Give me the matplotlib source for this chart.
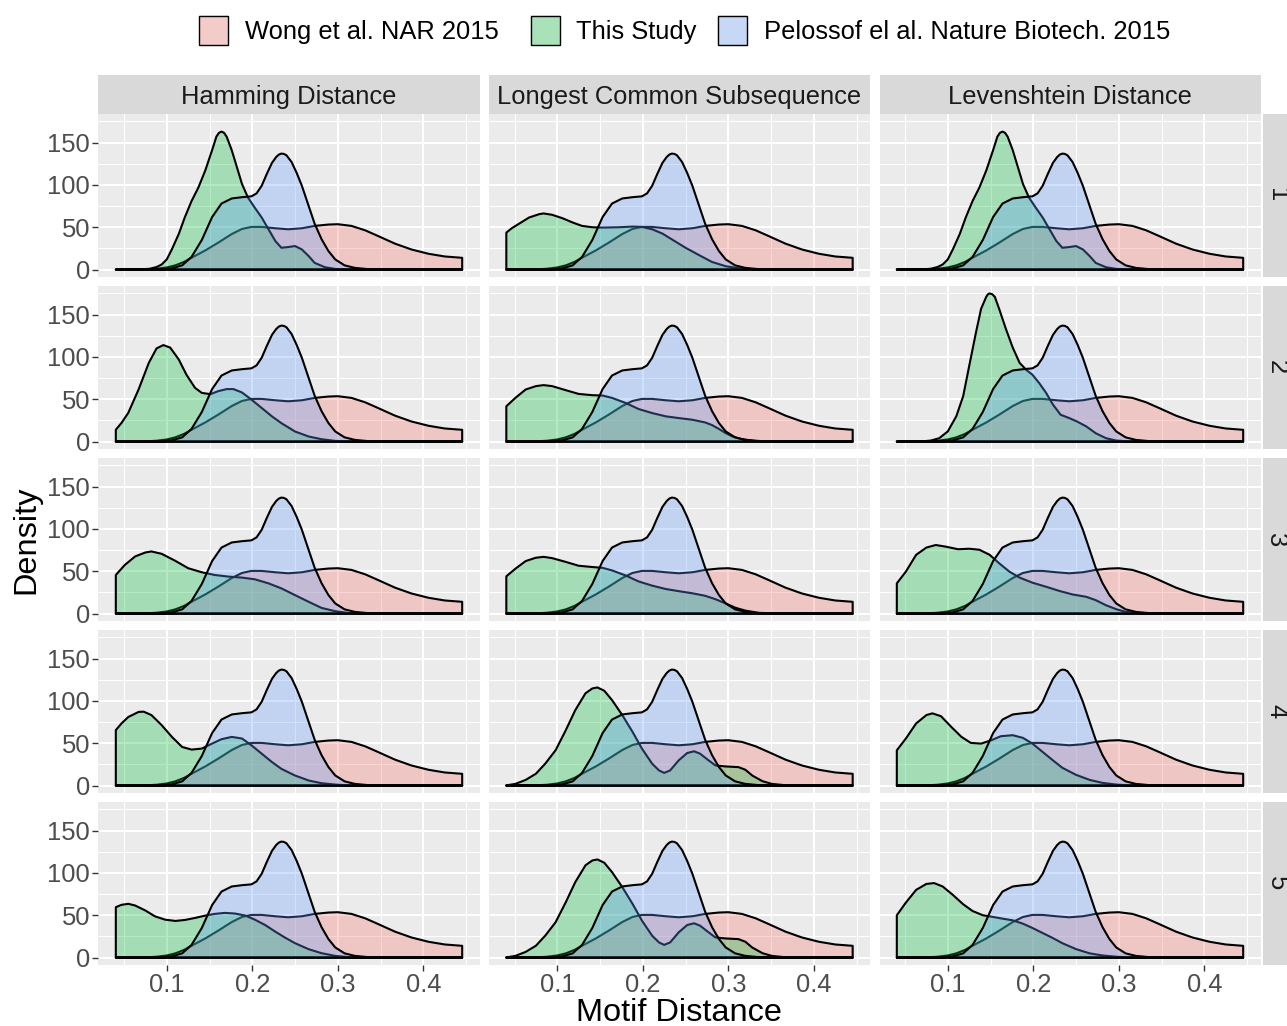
import matplotlib
matplotlib.use("Agg")
import matplotlib.pyplot as plt
from matplotlib.colors import to_rgb
from matplotlib.patches import Polygon, Rectangle

plt.rcParams['font.family'] = ['Liberation Sans', 'DejaVu Sans']

# ---------------------------------------------------------------- data
metrics = ["Hamming Distance", "Longest Common Subsequence", "Levenshtein Distance"]
row_labels = ["1", "2", "3", "4", "5"]
series_names = ["Wong et al. NAR 2015", "This Study",
                "Pelossof el al. Nature Biotech. 2015"]
x_ticks = [0.1, 0.2, 0.3, 0.4]
x_tick_labels = ["0.1", "0.2", "0.3", "0.4"]
y_ticks = [0, 50, 100, 150]
y_tick_labels = ["0", "50", "100", "150"]

# reference libraries (identical in every panel)
wong_x = [0.0404, 0.06, 0.075, 0.088, 0.100, 0.110, 0.120, 0.129, 0.145, 0.160,
          0.176, 0.188, 0.199, 0.211, 0.227, 0.242, 0.258, 0.273, 0.289, 0.300,
          0.316, 0.332, 0.347, 0.367, 0.386, 0.406, 0.425, 0.4455]
wong_y = [0, 0.1, 0.3, 1, 2.5, 5, 9, 14, 22.6, 31.7,
          42, 48, 50.4, 50.4, 48.8, 47.6, 48.8, 51.6, 53.2, 53.6,
          51.6, 46.4, 39.7, 30.6, 23.8, 18.7, 15.5, 13.9]

pelossof_x = [0.0404, 0.08, 0.094, 0.106, 0.118, 0.129, 0.141, 0.153, 0.164, 0.176,
              0.188, 0.199, 0.205, 0.211, 0.217, 0.223, 0.228, 0.231, 0.234, 0.237,
              0.240, 0.246, 0.252, 0.258, 0.266, 0.273, 0.281, 0.289, 0.297, 0.308,
              0.320, 0.336, 0.36, 0.4455]
pelossof_y = [0, 0.05, 0.3, 1.5, 5, 15, 35, 62, 78, 84,
              85.5, 86.5, 90, 99, 113, 126, 133, 135.8, 137, 136.6,
              135, 127, 114, 99, 75, 54, 36, 22, 12, 5,
              2, 0.5, 0.1, 0]

# this study, one curve per (metric, k) panel
ham1_x = [0.0404, 0.07, 0.08, 0.088, 0.094, 0.100, 0.106, 0.114, 0.121, 0.129,
          0.137, 0.145, 0.153, 0.158, 0.161, 0.164, 0.167, 0.170, 0.176, 0.182,
          0.188, 0.195, 0.203, 0.211, 0.219, 0.227, 0.234, 0.242, 0.250, 0.258,
          0.266, 0.273, 0.285, 0.297, 0.32, 0.4455]
ham1_y = [0, 0.3, 1, 3, 6, 12, 24, 42, 61.5, 81,
          97, 117, 141, 157, 161.5, 163, 161.5, 157, 141, 121,
          101, 85, 73, 61.5, 47.6, 33.7, 25.8, 26.6, 27.8, 23.8,
          15.9, 7.9, 2.8, 0.8, 0.1, 0]

lcs1_x = [0.0404, 0.047, 0.055, 0.067, 0.079, 0.084, 0.094, 0.106, 0.118, 0.129,
          0.141, 0.153, 0.172, 0.188, 0.199, 0.211, 0.223, 0.234, 0.25, 0.266,
          0.281, 0.297, 0.312, 0.328, 0.35, 0.4455]
lcs1_y = [43.7, 49, 54, 61.5, 65.5, 66.3, 64.7, 60.7, 55.6, 51.6,
          50, 49.6, 50, 50.8, 50.4, 47.6, 42.5, 35.7, 25.8, 17,
          9, 4, 1.6, 0.4, 0.1, 0]

lev1_x = ham1_x
lev1_y = ham1_y

ham2_x = [0.0404, 0.047, 0.055, 0.067, 0.079, 0.088, 0.096, 0.104, 0.114, 0.123,
          0.133, 0.141, 0.151, 0.160, 0.170, 0.178, 0.188, 0.199, 0.211, 0.223,
          0.234, 0.250, 0.266, 0.281, 0.297, 0.32, 0.4455]
ham2_y = [14, 22, 34, 61.5, 93, 110, 114, 111, 97, 79,
          63.5, 57.5, 56, 59.5, 62, 62, 58, 49.6, 39.7, 29.8,
          21.8, 11.9, 6, 2.8, 0.8, 0.1, 0]

lcs2_x = [0.0404, 0.051, 0.063, 0.075, 0.084, 0.094, 0.110, 0.125, 0.141, 0.153,
          0.164, 0.180, 0.195, 0.211, 0.227, 0.242, 0.258, 0.273, 0.281, 0.289,
          0.297, 0.305, 0.315, 0.33, 0.35, 0.4455]
lcs2_y = [41.7, 51.6, 61.5, 65.5, 66.7, 65.5, 60.7, 56.3, 54.8, 54.4,
          51.6, 45.6, 38.5, 33.7, 29.8, 27.8, 25.8, 22.6, 19.5, 15,
          10, 6, 3, 1, 0.2, 0]

lev2_x = [0.0404, 0.07, 0.08, 0.09, 0.100, 0.110, 0.118, 0.125, 0.133, 0.139,
          0.145, 0.147, 0.149, 0.152, 0.155, 0.160, 0.168, 0.176, 0.184, 0.192,
          0.199, 0.207, 0.215, 0.223, 0.232, 0.242, 0.251, 0.262, 0.273, 0.285,
          0.297, 0.312, 0.4455]
lev2_y = [0, 0.3, 1.2, 4, 12, 30, 53.6, 89, 129, 157,
          171, 174, 175, 174, 171, 157, 133, 111, 93, 84.5,
          79, 69, 57.5, 43.7, 31.7, 27.8, 23.8, 17.9, 9.9, 4,
          1.2, 0.3, 0]

ham3_x = [0.0404, 0.051, 0.063, 0.075, 0.082, 0.094, 0.110, 0.125, 0.141, 0.156,
          0.172, 0.188, 0.203, 0.219, 0.234, 0.250, 0.266, 0.281, 0.297, 0.312,
          0.33, 0.4455]
ham3_y = [45.6, 57.5, 67.5, 72.2, 73.4, 70.6, 62.3, 53.6, 48.8, 45.6,
          43.7, 42.5, 40.5, 35.7, 29.8, 21.8, 13.9, 6.7, 2.8, 0.8,
          0.2, 0]

lcs3_x = [0.0404, 0.051, 0.063, 0.075, 0.084, 0.094, 0.110, 0.125, 0.141, 0.153,
          0.164, 0.180, 0.195, 0.211, 0.227, 0.242, 0.258, 0.273, 0.285, 0.297,
          0.308, 0.32, 0.335, 0.35, 0.4455]
lcs3_y = [44, 53, 62, 66, 67, 65.5, 61, 56.5, 55, 54,
          51, 45, 38, 33, 29, 26.5, 24, 21, 17, 12,
          7, 3.5, 1, 0.2, 0]

lev3_x = [0.0404, 0.051, 0.063, 0.075, 0.086, 0.098, 0.112, 0.125, 0.137, 0.149,
          0.160, 0.172, 0.184, 0.199, 0.215, 0.231, 0.246, 0.262, 0.273, 0.285,
          0.297, 0.308, 0.324, 0.34, 0.4455]
lev3_y = [35.7, 49.6, 69.4, 78, 81, 79, 76, 76.6, 75.4, 69.4,
          59.5, 49.6, 42.5, 36.5, 31.7, 26.6, 22.6, 19.8, 15.9, 9.9,
          5.2, 2, 0.6, 0.1, 0]

ham4_x = [0.0404, 0.047, 0.055, 0.067, 0.073, 0.082, 0.094, 0.106, 0.118, 0.129,
          0.141, 0.153, 0.164, 0.176, 0.188, 0.199, 0.211, 0.223, 0.234, 0.250,
          0.266, 0.281, 0.297, 0.312, 0.33, 0.4455]
ham4_y = [65.5, 73.4, 81, 87, 87.3, 83.3, 71.4, 57.5, 45.6, 42.5,
          43.7, 49.6, 54.8, 57.5, 55.6, 47.6, 37.7, 27.8, 19.8, 11.9,
          6, 2.8, 1.2, 0.3, 0.1, 0]

lcs4_x = [0.0404, 0.051, 0.063, 0.075, 0.086, 0.098, 0.110, 0.121, 0.133, 0.141,
          0.147, 0.155, 0.164, 0.176, 0.188, 0.199, 0.211, 0.219, 0.225, 0.232,
          0.242, 0.252, 0.260, 0.267, 0.277, 0.285, 0.297, 0.312, 0.320, 0.328,
          0.340, 0.351, 0.367, 0.39, 0.4455]
lcs4_y = [0.3, 2, 6.7, 14, 26, 41.7, 65.5, 89, 109, 114.7,
          115.9, 112, 101, 83.3, 63.5, 43.7, 25.8, 17.9, 15, 17.9,
          29.8, 38.5, 40.5, 37.7, 29.8, 23.8, 22.6, 21.8, 18.7, 11.9,
          5.2, 2, 0.4, 0.1, 0]

lev4_x = [0.0404, 0.051, 0.063, 0.075, 0.082, 0.092, 0.104, 0.116, 0.127, 0.139,
          0.151, 0.162, 0.176, 0.188, 0.199, 0.211, 0.223, 0.234, 0.250, 0.266,
          0.281, 0.297, 0.312, 0.33, 0.4455]
lev4_y = [41.7, 55.6, 73.4, 83.3, 85.3, 82, 69.4, 57.5, 50.4, 49.6,
          53.6, 58.3, 59.5, 56.3, 49.6, 39.7, 29.8, 21, 12.7, 6.7,
          3.2, 1.2, 0.3, 0.1, 0]

ham5_x = [0.0404, 0.047, 0.055, 0.063, 0.075, 0.086, 0.098, 0.110, 0.121, 0.133,
          0.145, 0.156, 0.168, 0.180, 0.192, 0.203, 0.215, 0.227, 0.238, 0.250,
          0.266, 0.281, 0.297, 0.312, 0.33, 0.4455]
ham5_y = [59.5, 62.3, 63.5, 61.5, 55.6, 48.8, 44.8, 43.3, 44.4, 46.8,
          49.6, 51.6, 52.8, 52, 49.6, 44.8, 38.5, 30.6, 23.8, 17,
          9.9, 5.2, 2, 0.6, 0.1, 0]

lcs5_x = lcs4_x
lcs5_y = lcs4_y

lev5_x = [0.0404, 0.051, 0.063, 0.075, 0.084, 0.094, 0.106, 0.118, 0.129, 0.141,
          0.153, 0.164, 0.176, 0.188, 0.199, 0.211, 0.223, 0.234, 0.25, 0.266,
          0.281, 0.297, 0.312, 0.33, 0.4455]
lev5_y = [50, 65, 80, 87, 88, 84, 74, 63, 55, 50,
          48, 46, 44, 40, 35, 29, 23, 17, 10, 5,
          2.5, 1, 0.3, 0.1, 0]

study_grid = [
    [(ham1_x, ham1_y), (lcs1_x, lcs1_y), (lev1_x, lev1_y)],
    [(ham2_x, ham2_y), (lcs2_x, lcs2_y), (lev2_x, lev2_y)],
    [(ham3_x, ham3_y), (lcs3_x, lcs3_y), (lev3_x, lev3_y)],
    [(ham4_x, ham4_y), (lcs4_x, lcs4_y), (lev4_x, lev4_y)],
    [(ham5_x, ham5_y), (lcs5_x, lcs5_y), (lev5_x, lev5_y)],
]

# ---------------------------------------------------------------- style
fill_colors = ["#F8766D", "#00BA38", "#619CFF"]
fill_alpha = 0.3
panel_bg = "#EBEBEB"
strip_bg = "#D9D9D9"
small_pt = 18.4
title_pt = 23.4

W, H = 1287, 1026
fig = plt.figure(figsize=(W / 100, H / 100), dpi=100)
fig.patch.set_facecolor("white")


def px_axes(left, top, width, height):
    return fig.add_axes([left / W, 1 - (top + height) / H, width / W, height / H])


overlay = px_axes(0, 0, W, H)
overlay.set_xlim(0, W)
overlay.set_ylim(H, 0)
overlay.axis("off")

all_y = wong_y + pelossof_y + [v for row in study_grid for _, ys in row for v in ys]
y_max = max(all_y)
x_min, x_max = wong_x[0], wong_x[-1]
x_pad = 0.05 * (x_max - x_min)

col_left = [98.5, 489.0, 879.5]
row_top = [114.0, 286.0, 458.0, 630.0, 802.0]
panel_w, panel_h = 381.0, 163.0
strip_size = 39.0
row_strip_w = 28.0


def add_density(ax, xs, ys, color, z):
    verts = [(xs[0], 0)] + list(zip(xs, ys)) + [(xs[-1], 0)]
    ax.add_patch(Polygon(verts, closed=True, facecolor=(*to_rgb(color), fill_alpha),
                         edgecolor="black", linewidth=1.5, joinstyle="round", zorder=z))


for r in range(5):
    for c in range(3):
        ax = px_axes(col_left[c], row_top[r], panel_w, panel_h)
        ax.set_facecolor(panel_bg)
        for s in ax.spines.values():
            s.set_visible(False)
        ax.set_xlim(x_min - x_pad, x_max + x_pad)
        ax.set_ylim(-0.05 * y_max, 1.05 * y_max)
        ax.set_xticks(x_ticks)
        ax.set_xticks([0.05, 0.15, 0.25, 0.35, 0.45], minor=True)
        ax.set_yticks(y_ticks)
        ax.set_yticks([25, 75, 125, 175], minor=True)
        ax.grid(which="major", color="white", linewidth=1.5)
        ax.grid(which="minor", color="white", linewidth=0.75)
        ax.set_axisbelow(True)
        ax.tick_params(which="minor", length=0)
        ax.tick_params(which="major", length=4, width=1.0, color="#333333",
                       labelsize=small_pt, labelcolor="#4D4D4D", pad=2)
        if r == 4:
            ax.set_xticklabels(x_tick_labels)
        else:
            ax.tick_params(axis="x", length=0, labelbottom=False)
        if c == 0:
            ax.set_yticklabels(y_tick_labels)
        else:
            ax.tick_params(axis="y", length=0, labelleft=False)

        sx, sy = study_grid[r][c]
        add_density(ax, wong_x, wong_y, fill_colors[0], 2)
        add_density(ax, sx, sy, fill_colors[1], 3)
        add_density(ax, pelossof_x, pelossof_y, fill_colors[2], 4)

# column strips
for c, name in enumerate(metrics):
    sax = px_axes(col_left[c], row_top[0] - strip_size, panel_w, strip_size)
    sax.set_facecolor(strip_bg)
    sax.set_xticks([]); sax.set_yticks([])
    for s in sax.spines.values():
        s.set_visible(False)
    sax.text(0.5, 0.5, name, ha="center", va="center_baseline", fontsize=small_pt,
             color="#1A1A1A", transform=sax.transAxes)

# row strips
strip_x = col_left[2] + panel_w + 2
for r, lab in enumerate(row_labels):
    sax = px_axes(strip_x, row_top[r], row_strip_w, panel_h)
    sax.set_facecolor(strip_bg)
    sax.set_xticks([]); sax.set_yticks([])
    for s in sax.spines.values():
        s.set_visible(False)
    sax.text(0.5, 0.5, lab, ha="center", va="center", rotation=-90,
             fontsize=small_pt, color="#1A1A1A", transform=sax.transAxes)

# axis titles
overlay.text((col_left[0] + col_left[2] + panel_w) / 2, 1021, "Motif Distance",
             ha="center", va="baseline", fontsize=title_pt, color="black")
overlay.text(26, (row_top[0] + row_top[4] + panel_h) / 2, "Density",
             ha="center", va="center", rotation=90, fontsize=title_pt, color="black")

# legend
key_left = [198.5, 530.0, 717.0]
for i, name in enumerate(series_names):
    overlay.add_patch(Rectangle((key_left[i], 15), 30, 30, facecolor="#F2F2F2",
                                edgecolor="none"))
    overlay.add_patch(Rectangle((key_left[i] + 0.5, 15.5), 29, 29,
                                facecolor=(*to_rgb(fill_colors[i]), fill_alpha),
                                edgecolor="black", linewidth=1.0))
    overlay.text(key_left[i] + 46.5, 39, name, ha="left", va="baseline",
                 fontsize=small_pt, color="black")

fig.savefig("out.png", dpi=100, facecolor="white")
